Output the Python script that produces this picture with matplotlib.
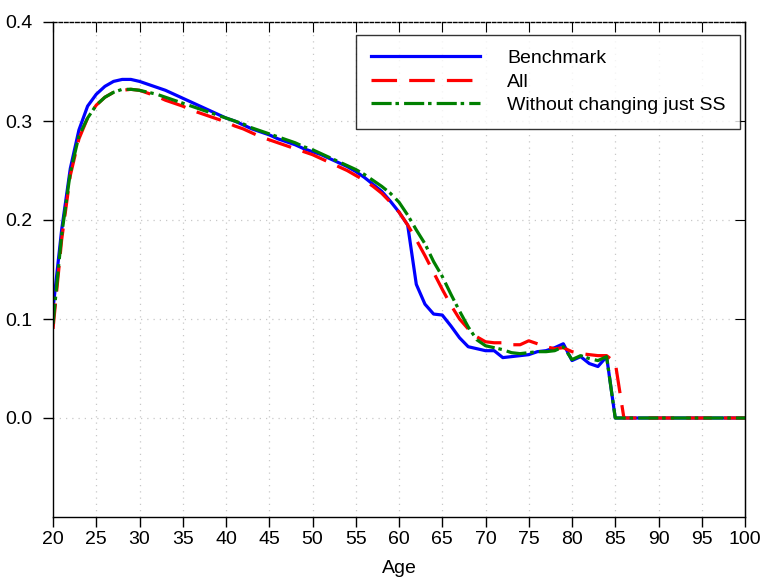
import numpy as np
import matplotlib
matplotlib.use("Agg")
import matplotlib.pyplot as plt

# ages 20..100
ages = np.arange(20, 101)

benchmark_20_84 = [
    0.110, 0.190, 0.252, 0.291, 0.315, 0.327, 0.335, 0.340, 0.342, 0.342,
    0.340, 0.337, 0.334, 0.331, 0.327, 0.323, 0.319, 0.315, 0.311, 0.307,
    0.303, 0.300, 0.296, 0.292, 0.289, 0.286, 0.282, 0.279, 0.276, 0.272,
    0.269, 0.266, 0.262, 0.258, 0.254, 0.249, 0.243, 0.236, 0.229, 0.219,
    0.208, 0.195, 0.135, 0.115, 0.105, 0.104, 0.093, 0.081, 0.072, 0.070,
    0.068, 0.068, 0.061, 0.062, 0.063, 0.064, 0.067, 0.068, 0.071, 0.075,
    0.058, 0.062, 0.055, 0.052, 0.062,
]
all_20_85 = [
    0.090, 0.180, 0.245, 0.282, 0.303, 0.316, 0.324, 0.329, 0.331, 0.332,
    0.331, 0.328, 0.325, 0.321, 0.318, 0.315, 0.311, 0.308, 0.305, 0.302,
    0.299, 0.295, 0.292, 0.288, 0.284, 0.281, 0.278, 0.275, 0.272, 0.269,
    0.266, 0.262, 0.258, 0.254, 0.250, 0.245, 0.240, 0.234, 0.227, 0.218,
    0.208, 0.195, 0.180, 0.164, 0.147, 0.130, 0.114, 0.100, 0.090, 0.082,
    0.077, 0.076, 0.076, 0.074, 0.074, 0.078, 0.075, 0.072, 0.070, 0.071,
    0.067, 0.065, 0.064, 0.063, 0.063, 0.056,
]
no_ss_20_84 = [
    0.095, 0.185, 0.248, 0.285, 0.303, 0.316, 0.324, 0.329, 0.332, 0.332,
    0.331, 0.329, 0.327, 0.324, 0.321, 0.318, 0.315, 0.312, 0.309, 0.306,
    0.303, 0.300, 0.297, 0.293, 0.290, 0.287, 0.284, 0.281, 0.278, 0.274,
    0.271, 0.267, 0.263, 0.259, 0.255, 0.251, 0.246, 0.240, 0.234, 0.227,
    0.218, 0.205, 0.190, 0.176, 0.158, 0.143, 0.125, 0.108, 0.092, 0.079,
    0.073, 0.071, 0.069, 0.066, 0.065, 0.066, 0.067, 0.067, 0.068, 0.072,
    0.059, 0.063, 0.060, 0.058, 0.062,
]

def pad_zeros(vals):
    return np.array(vals + [0.0] * (len(ages) - len(vals)))

benchmark = pad_zeros(benchmark_20_84)
all_changes = pad_zeros(all_20_85)
no_ss = pad_zeros(no_ss_20_84)

plt.rcParams["font.family"] = ["Liberation Sans", "DejaVu Sans"]
plt.rcParams["font.size"] = 14

fig = plt.figure(figsize=(7.6, 5.87), dpi=100)
ax = fig.add_axes([53 / 760, 1 - 517 / 587, 692 / 760, 495 / 587])

ax.plot(ages, benchmark, color="#0000ff", lw=2.3, label="Benchmark")
ax.plot(ages, all_changes, color="#ff0000", lw=2.3, dashes=(8, 3.8), label="All")
ax.plot(ages, no_ss, color="#008000", lw=2.3, dashes=(6.3, 1.2, 1.1, 1.6),
        label="Without changing just SS")

ax.set_xlim(20, 100)
ax.set_ylim(-0.1, 0.4)
ax.set_xticks(np.arange(20, 101, 5))
ax.set_yticks([0.0, 0.1, 0.2, 0.3, 0.4])
ax.set_yticklabels(["0.0", "0.1", "0.2", "0.3", "0.4"])
ax.set_xlabel("Age", labelpad=9)

# dotted grid, only interior lines
for x in range(25, 100, 5):
    ax.axvline(x, color="#c8c8c8", lw=0.9, ls=(0, (1, 4)), zorder=0)
for y in [0.0, 0.1, 0.2, 0.3]:
    ax.axhline(y, color="#c8c8c8", lw=0.9, ls=(0, (1, 4)), zorder=0)

ax.tick_params(axis="x", direction="out", length=7, width=1, pad=3, labelsize=14)
ax.tick_params(axis="y", direction="out", length=7, width=1, pad=8, labelsize=14)

# inward ticks on top and right
top = ax.secondary_xaxis("top")
top.set_xticks(np.arange(20, 101, 5))
top.tick_params(direction="in", length=7, labeltop=False)
top.spines["top"].set_linestyle((0, (2.5, 1.5)))
top.spines["top"].set_linewidth(1)
right = ax.secondary_yaxis("right")
right.set_yticks([0.0, 0.1, 0.2, 0.3, 0.4])
right.tick_params(direction="in", length=7, labelright=False)

for s in ["left", "bottom", "right"]:
    ax.spines[s].set_linewidth(1)
ax.spines["top"].set_visible(False)

leg = ax.legend(loc="upper right", bbox_to_anchor=(0.993, 0.974),
                borderaxespad=0, frameon=True, fancybox=False,
                edgecolor="black", handlelength=5.6, handletextpad=1.4,
                labelspacing=0.3, borderpad=0.75, fontsize=14)
leg.get_frame().set_linewidth(1)

fig.savefig("out.png", dpi=100)
